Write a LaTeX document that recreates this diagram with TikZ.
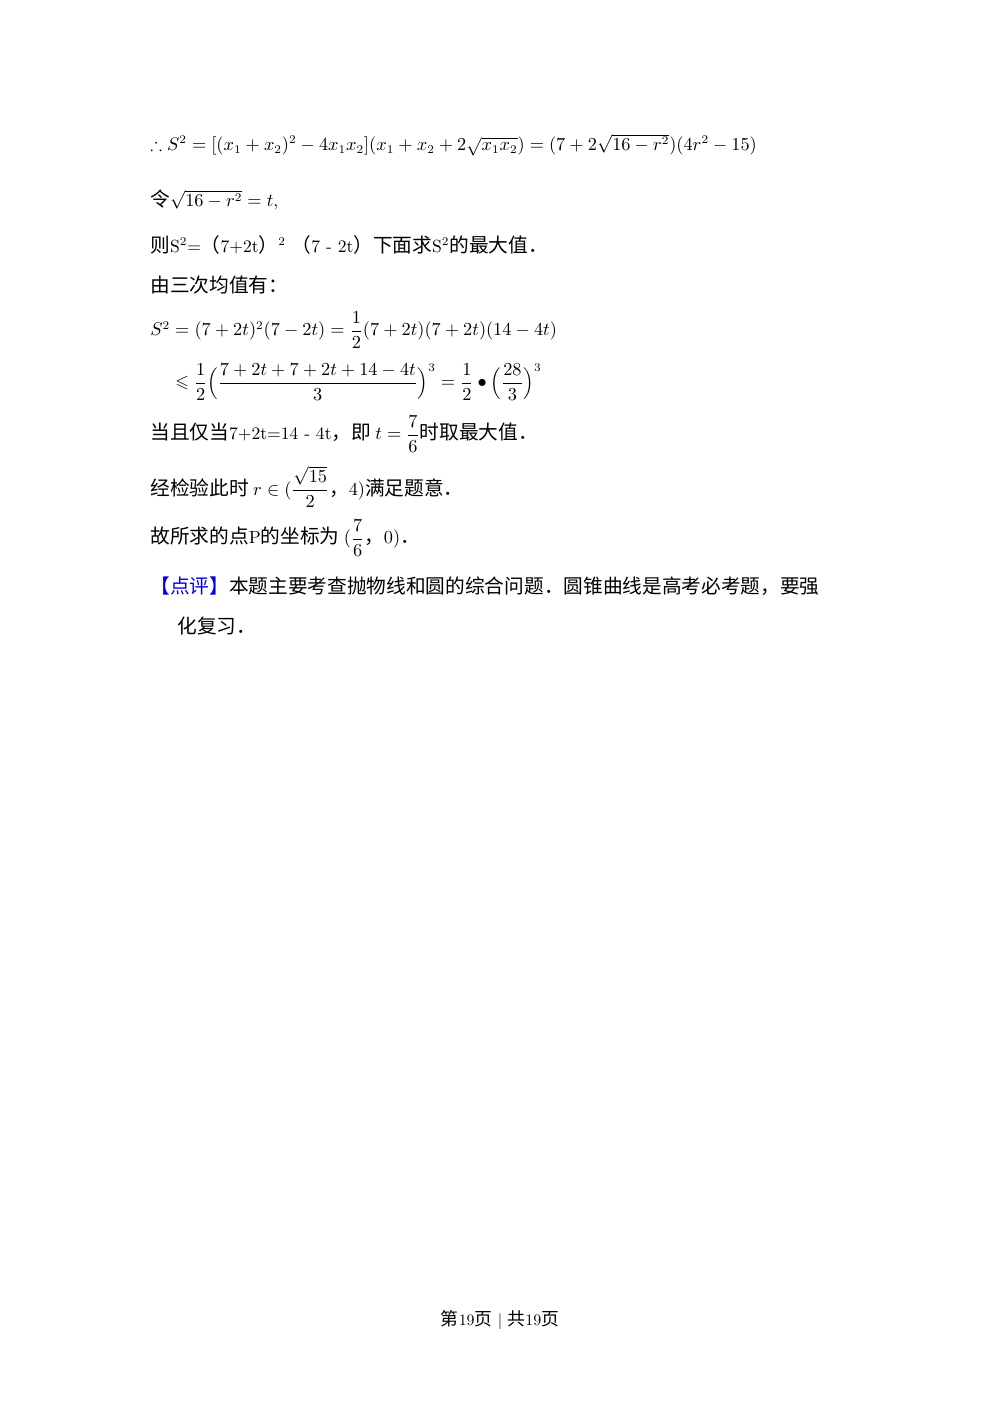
\documentclass[tikz,border=0pt]{standalone}
\usepackage{amsmath,amssymb}
\usepackage{fontspec}
\newfontfamily\cjk{Noto Sans CJK SC}[Scale=1.12]
\begin{document}
\begin{tikzpicture}[x=0.021cm,y=-0.021cm,
 ln/.style={anchor=west,inner sep=0pt,font=\fontsize{10.5}{12}\selectfont}]
\useasboundingbox (0,0) rectangle (1000,1414);
\node[ln] (l1) at (150,145) {$\therefore S^2=[(x_1+x_2)^2-4x_1x_2](x_1+x_2+2\sqrt{x_1x_2})=(7+2\sqrt{16-r^2})(4r^2-15)$};
\node[ln] (l2) at (150,200) {{\cjk 令}$\sqrt{16-r^2}=t$,};
\node[ln] (l3) at (150,245) {{\cjk 则}S$^2$={\cjk （}7+2t{\cjk ）}$^2$ {\cjk （}7 - 2t{\cjk ）下面求}S$^2${\cjk 的最大值．}};
\node[ln] (l4) at (150,285) {\cjk 由三次均值有：};
\node[ln] (l5) at (150,330) {$S^2=(7+2t)^2(7-2t)=\dfrac12(7+2t)(7+2t)(14-4t)$};
\node[ln] (l6) at (175,382) {$\leqslant\dfrac12\Big(\dfrac{7+2t+7+2t+14-4t}{3}\Big)^3=\dfrac12\bullet\Big(\dfrac{28}{3}\Big)^3$};
\node[ln] (l7) at (150,434) {{\cjk 当且仅当}7+2t=14 - 4t{\cjk ，即 }$t=\dfrac76${\cjk 时取最大值．}};
\node[ln] (l8) at (150,487) {{\cjk 经检验此时 }$r\in(\dfrac{\sqrt{15}}{2}${\cjk ，}$4)${\cjk 满足题意．}};
\node[ln] (l9) at (150,538) {{\cjk 故所求的点}P{\cjk 的坐标为 }$(\dfrac76${\cjk ，}$0)${\cjk ．}};
\node[ln] (l10) at (150,586) {{\cjk\color[rgb]{0,0,0.9}【点评】}{\cjk 本题主要考查抛物线和圆的综合问题．圆锥曲线是高考必考题，要强}};
\node[ln] (l11) at (177,626) {\cjk 化复习．};
\node[inner sep=0pt,font=\fontsize{9.5}{11}\selectfont] (f) at (500,1320) {{\cjk 第}19{\cjk 页} | {\cjk 共}19{\cjk 页}};
\end{tikzpicture}
\end{document}
